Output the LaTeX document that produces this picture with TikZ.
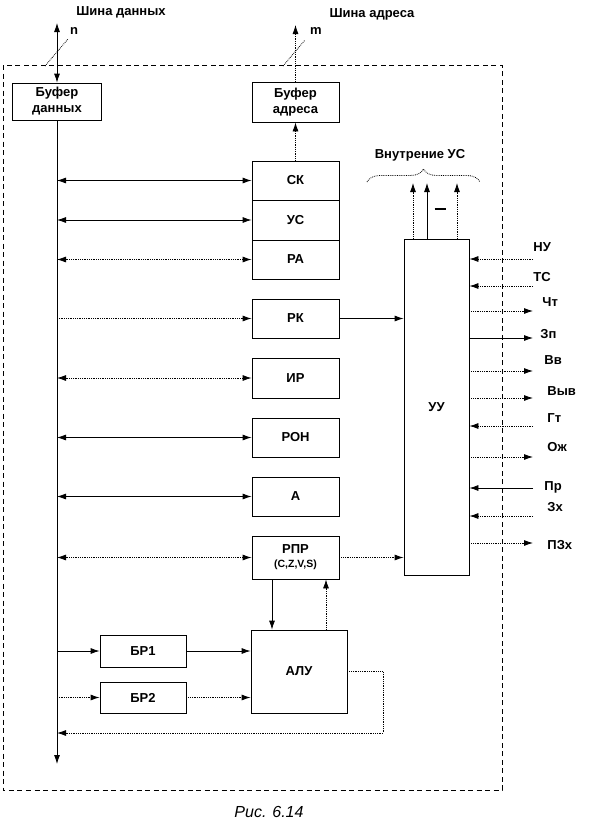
\documentclass[tikz,border=0pt]{standalone}
\usepackage{fontspec}
\setmainfont{Liberation Sans}
\usetikzlibrary{arrows.meta,decorations.pathreplacing}

\tikzset{
  blk/.style={draw, fill=white, minimum width=87pt, minimum height=39pt, inner sep=1pt, font=\bfseries\fontsize{13}{16}\selectfont, align=center},
  lbl/.style={font=\bfseries\fontsize{13}{14}\selectfont, inner sep=0pt},
  dots/.style={densely dotted},
}

\begin{document}
\begin{tikzpicture}[x=1pt, y=-1pt, line width=0.8pt, >={Latex[length=9pt,width=6pt]}]
  \useasboundingbox (0,0) rectangle (592,820);
  \draw[dash pattern=on 5pt off 3.5pt, line width=0.7pt] (3,65) rectangle (502,790);

  \node[blk, minimum width=89pt, minimum height=37pt] (bufd) at (57,101.5) {Буфер\\данных};
  \node[blk, minimum height=40pt] (bufa) at (295.5,102) {Буфер\\адреса};
  \node[blk] (sk) at (295.5,180.5) {СК};
  \node[blk, minimum height=40pt] (us) at (295.5,220) {УС};
  \node[blk] (ra) at (295.5,259.5) {РА};
  \node[blk] (rk) at (295.5,318.5) {РК};
  \node[blk, minimum height=40pt] (ir) at (295.5,378) {ИР};
  \node[blk] (ron) at (295.5,437.5) {РОН};
  \node[blk] (acc) at (295.5,496.5) {А};
  \node[blk, minimum height=43pt] (rpr) at (295.5,557.5) {РПР\\[-2pt]{\fontsize{10.5}{11}\selectfont(C,Z,V,S)}};
  \node[blk, minimum width=96pt, minimum height=83pt] (alu) at (299,671.5) {АЛУ};
  \node[blk, minimum width=86pt, minimum height=32pt] (br1) at (143,651) {БР1};
  \node[blk, minimum width=86pt, minimum height=31pt] (br2) at (143,697.5) {БР2};
  \node[blk, minimum width=65pt, minimum height=336pt] (uu) at (436.5,407) {УУ};

  \node[lbl] (tdata) at (121,12) {Шина данных};
  \node[lbl] (tadr) at (372,14) {Шина адреса};
  \node[lbl] (nlab) at (74,31) {n};
  \node[lbl] (mlab) at (316,31) {m};
  \node[lbl] (tvn) at (420,155) {Внутрение УС};
  \node[lbl] (bar) at (440,209) {\rule{11pt}{2.5pt}};
  \node[font=\itshape\fontsize{16}{17}\selectfont] (cap) at (269,812) {Рис. 6.14};

  \coordinate (bustop) at (57,23);
  \coordinate (busbot) at (57,764);
  \coordinate (adrtop) at (295.5,25);
  \draw[<->] (bustop) -- (bufd.north);
  \draw[->] (bufd.south) -- (busbot);
  \draw[->, dots] (bufa.north) -- (adrtop);
  \draw[->, dots] (sk.north) -- (bufa.south);
  \draw[dots] (45,66) -- (68,39);
  \draw[dots] (283,66) -- (305,40);

  \draw[<->] (sk.west -| bustop) -- (sk.west);
  \draw[<->] (us.west -| bustop) -- (us.west);
  \draw[<->, dots] (ra.west -| bustop) -- (ra.west);
  \draw[->, dots] (rk.west -| bustop) -- (rk.west);
  \draw[<->, dots] (ir.west -| bustop) -- (ir.west);
  \draw[<->] (ron.west -| bustop) -- (ron.west);
  \draw[<->] (acc.west -| bustop) -- (acc.west);
  \draw[<->, dots] (rpr.west -| bustop) -- (rpr.west);
  \draw[->] (br1.west -| bustop) -- (br1.west);
  \draw[->, dots] (br2.west -| bustop) -- (br2.west);
  \draw[->] (br1.east) -- (br1.east -| alu.west);
  \draw[->, dots] (br2.east) -- (br2.east -| alu.west);

  \draw[->] (rk.east) -- (rk.east -| uu.west);
  \draw[->, dots] (rpr.east) -- (rpr.east -| uu.west);
  \draw[->] ([xshift=-23.5pt]rpr.south) -- ([xshift=-23.5pt]rpr.south |- alu.north);
  \draw[->, dots] ([xshift=30.5pt]rpr.south |- alu.north) -- ([xshift=30.5pt]rpr.south);
  \coordinate (fb) at (383,733);
  \draw[->, dots] (alu.east) -| (fb) -- (fb -| bustop);

  \coordinate (vn1) at (413,183);
  \coordinate (vn2) at (427,183);
  \coordinate (vn3) at (457,183);
  \draw[->, dots] (vn1 |- uu.north) -- (vn1);
  \draw[->] (vn2 |- uu.north) -- (vn2);
  \draw[->, dots] (vn3 |- uu.north) -- (vn3);
  \draw[dots, decorate, decoration={brace, amplitude=13pt}] (367,182) -- (480,182);

  \node[lbl, anchor=west] (lnu) at (533,247) {НУ};
  \node[lbl, anchor=west] (lts) at (533,277) {ТС};
  \node[lbl, anchor=west] (lcht) at (542,302) {Чт};
  \node[lbl, anchor=west] (lzp) at (540,334) {Зп};
  \node[lbl, anchor=west] (lvv) at (544,360) {Вв};
  \node[lbl, anchor=west] (lvyv) at (547,391) {Выв};
  \node[lbl, anchor=west] (lgt) at (547,418) {Гт};
  \node[lbl, anchor=west] (lozh) at (547,447) {Ож};
  \node[lbl, anchor=west] (lpr) at (544,487) {Пр};
  \node[lbl, anchor=west] (lzx) at (547,507) {Зх};
  \node[lbl, anchor=west] (lpzx) at (547,545) {ПЗх};

  \coordinate (nu) at (533,259);
  \coordinate (ts) at (533,286);
  \coordinate (cht) at (533,311);
  \coordinate (zp) at (533,338);
  \coordinate (vv) at (533,371);
  \coordinate (vyv) at (533,398);
  \coordinate (gt) at (533,426);
  \coordinate (ozh) at (533,457);
  \coordinate (pr) at (533,488);
  \coordinate (zx) at (533,516);
  \coordinate (pzx) at (533,543);
  \draw[->, dots] (nu) -- (nu -| uu.east);
  \draw[->, dots] (ts) -- (ts -| uu.east);
  \draw[->, dots] (cht -| uu.east) -- (cht);
  \draw[->] (zp -| uu.east) -- (zp);
  \draw[->, dots] (vv -| uu.east) -- (vv);
  \draw[->, dots] (vyv -| uu.east) -- (vyv);
  \draw[->, dots] (gt) -- (gt -| uu.east);
  \draw[->, dots] (ozh -| uu.east) -- (ozh);
  \draw[->] (pr) -- (pr -| uu.east);
  \draw[->, dots] (zx) -- (zx -| uu.east);
  \draw[->, dots] (pzx -| uu.east) -- (pzx);
\end{tikzpicture}
\end{document}
